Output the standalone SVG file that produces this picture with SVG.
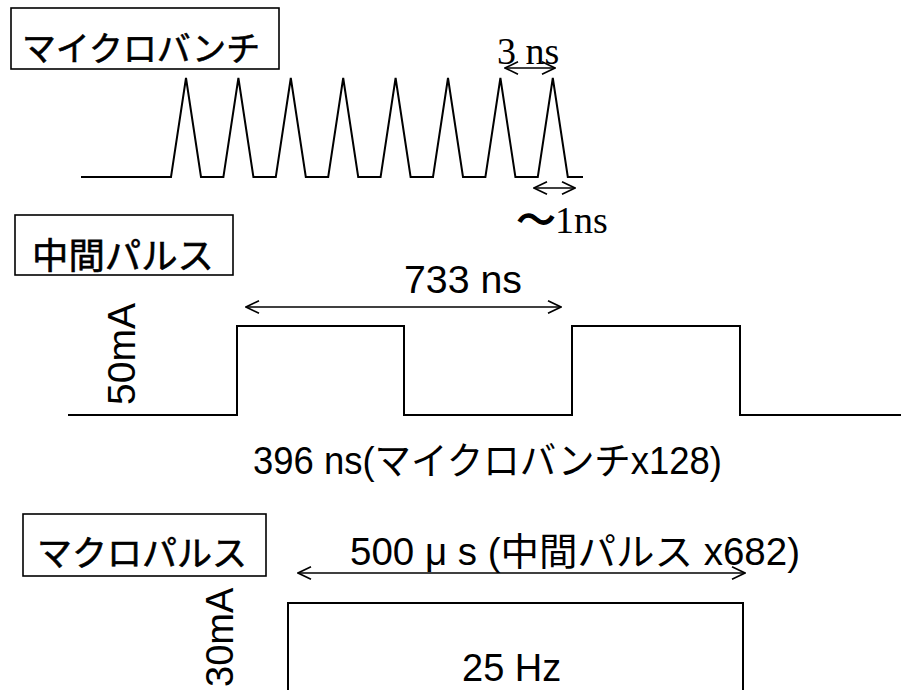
<svg xmlns="http://www.w3.org/2000/svg" width="901" height="690" viewBox="0 0 901 690">
<style>
.bg{fill:#fff}
.box{fill:none;stroke:#000;stroke-width:1.6}
.wave{fill:none;stroke:#000;stroke-width:2;stroke-linejoin:miter}
.arr{fill:none;stroke:#000;stroke-width:1.6;marker-start:url(#ah);marker-end:url(#ah)}
.jp{font-family:"Liberation Sans","Noto Sans CJK JP",sans-serif;fill:#000;stroke:#000;stroke-width:0.6}
.sans{font-family:"Liberation Sans","Noto Sans CJK JP",sans-serif;fill:#000;font-size:38px}
.serif{font-family:"Liberation Serif","Noto Sans CJK JP",serif;fill:#000;font-size:38px}
</style>
<defs>
<marker id="ah" viewBox="0 0 15 14" refX="14" refY="7" markerWidth="15" markerHeight="14" markerUnits="userSpaceOnUse" orient="auto-start-reverse">
<path d="M1,0.8 L14,7 L1,13.2" fill="none" stroke="#000" stroke-width="1.6"/>
</marker>
</defs>
<rect class="bg" x="0" y="0" width="901" height="690"/>

<g id="microbunch">
<rect class="box" x="11" y="8" width="268" height="61"/>
<text class="jp" x="22" y="61" font-size="34" textLength="238" lengthAdjust="spacingAndGlyphs">マイクロバンチ</text>
<path class="wave" d="M81,177 L171,177 L186,78 L201,177 L223.4,177 L238.4,78 L253.4,177 L275.8,177 L290.8,78 L305.8,177 L328.2,177 L343.2,78 L358.2,177 L380.6,177 L395.6,78 L410.6,177 L433,177 L448,78 L463,177 L485.4,177 L500.4,78 L515.4,177 L537.8,177 L552.8,78 L567.8,177 L583,177"/>
<text class="serif" x="497" y="64">3 ns</text>
<text class="serif" x="517" y="233"><tspan stroke="#000" stroke-width="1.6">～</tspan>1ns</text>
</g>

<g id="intermediate">
<rect class="box" x="15" y="215" width="218" height="60"/>
<text class="jp" x="32" y="269" font-size="36" textLength="182" lengthAdjust="spacingAndGlyphs">中間パルス</text>
<text class="sans" transform="translate(135,405) rotate(-90)" font-size="34" textLength="102" lengthAdjust="spacingAndGlyphs">50mA</text>
<path class="wave" d="M68,415 L237,415 L237,326 L404,326 L404,415 L572,415 L572,326 L740,326 L740,415 L901,415"/>
<text class="sans" x="404" y="293" textLength="118" lengthAdjust="spacingAndGlyphs">733 ns</text>
<text class="sans" x="253" y="474" textLength="469" lengthAdjust="spacingAndGlyphs">396 ns(マイクロバンチx128)</text>
</g>

<g id="macro">
<rect class="box" x="23" y="514" width="243" height="62"/>
<text class="jp" x="37" y="566" font-size="35" textLength="210" lengthAdjust="spacingAndGlyphs">マクロパルス</text>
<text class="sans" transform="translate(233,687) rotate(-90)">30mA</text>
<path class="wave" d="M288,700 L288,603 L743,603 L743,700"/>
<text class="sans" x="350" y="565" textLength="450" lengthAdjust="spacingAndGlyphs">500 μ s (中間パルス x682)</text>
<text class="sans" x="462" y="681">25 Hz</text>
</g>

<g id="connectors">
<line class="arr" x1="505" y1="68" x2="555" y2="68"/>
<line class="arr" x1="534" y1="188" x2="575" y2="188"/>
<line class="arr" x1="246" y1="307" x2="561" y2="307"/>
<line class="arr" x1="298" y1="573" x2="745" y2="573"/>
</g>
</svg>
